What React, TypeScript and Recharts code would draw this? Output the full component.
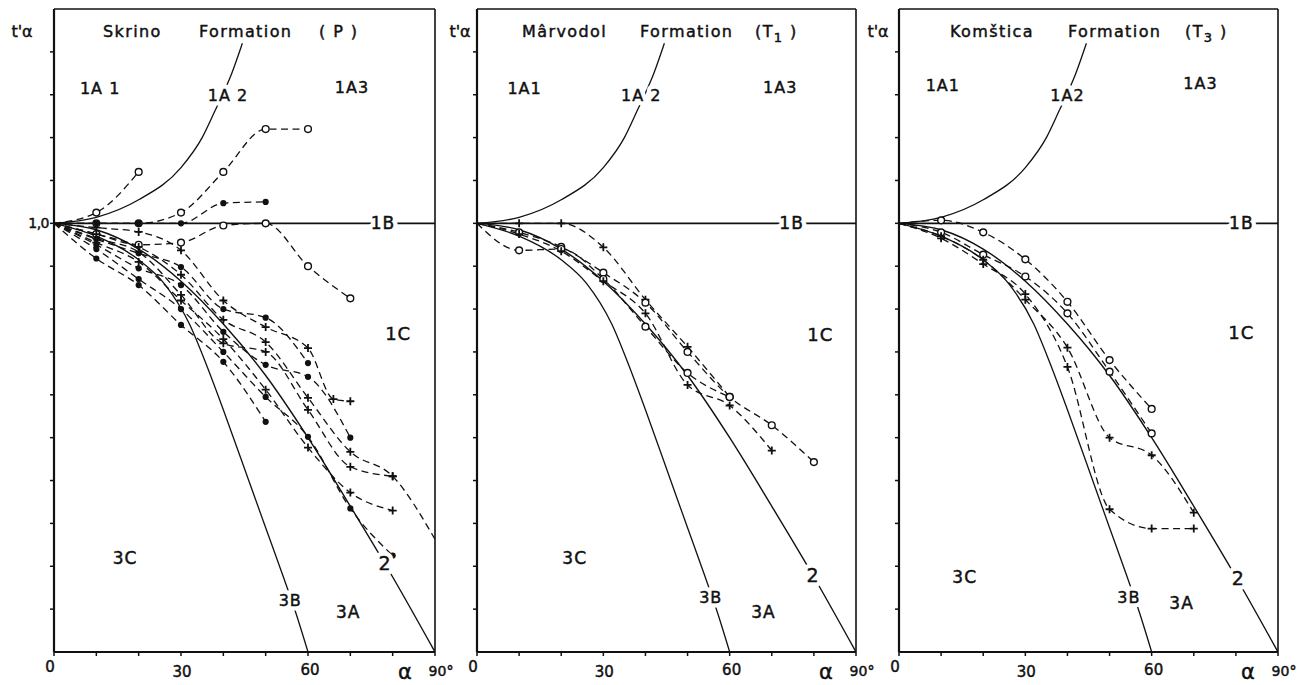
import React from 'react';
import { LineChart, Line, XAxis, YAxis, ReferenceLine, ReferenceDot } from 'recharts';

const INK = '#111';
const FONT = '"DejaVu Sans", "Liberation Sans", Arial, sans-serif';
// the scanned lettering is heavy, so every text gets a thin ink outline
const INKED = { fill: INK, stroke: INK, strokeWidth: 0.45 };

// α in degrees along x, t'α (normalised thickness) along y
const angles = [0, 10, 20, 30, 40, 50, 60, 70, 80, 90];
const tTicks = [0.1, 0.2, 0.3, 0.4, 0.5, 0.6, 0.7, 0.8, 0.9, 1.0, 1.1, 1.2, 1.3, 1.4];

// class boundaries (same on every panel)
const class1A2Angles = [0, 10, 20, 30, 35, 38, 42, 44.5];
const class1A2 = [1, 1.014, 1.055, 1.13, 1.2, 1.262, 1.35, 1.42];
const class1BAngles = [0, 90];
const class1B = [1, 1];
const class2 = [1, 0.985, 0.94, 0.865, 0.765, 0.645, 0.5, 0.34, 0.175, 0];
const class3BAngles = [0, 10, 20, 26, 32, 36, 40, 46, 50, 54, 57, 60];
const class3B = [1, 0.97, 0.915, 0.86, 0.765, 0.67, 0.565, 0.4, 0.29, 0.18, 0.095, 0];

// Skrino Formation (P)
const skrinoO1 = [1, 1.025, 1.12];
const skrinoO2 = [1, 1, 1, 1.025, 1.12, 1.22, 1.22];
const skrinoDot1 = [1, 1, 1, 1, 1.047, 1.05];
const skrinoO3 = [1, 0.975, 0.95, 0.955, 0.995, 1.0, 0.9, 0.825];
const skrinoPlus1Angles = [0, 10, 20, 30, 40, 50, 60, 66, 70];
const skrinoPlus1 = [1, 0.99, 0.98, 0.937, 0.82, 0.758, 0.709, 0.59, 0.585];
const skrinoDot2 = [1, 0.963, 0.93, 0.898, 0.8, 0.78, 0.674];
const skrinoPlus2 = [1, 0.975, 0.945, 0.88, 0.775, 0.723, 0.593, 0.467, 0.41, 0.263];
const skrinoDot3 = [1, 0.95, 0.895, 0.856, 0.747, 0.67, 0.642, 0.5];
const skrinoPlus3 = [1, 0.965, 0.933, 0.833, 0.72, 0.7, 0.565, 0.432, 0.41];
const skrinoPlus4 = [1, 0.955, 0.91, 0.82, 0.73, 0.612, 0.477, 0.372, 0.33];
const skrinoDot4 = [1, 0.918, 0.856, 0.763, 0.677, 0.537];
const skrinoDot5 = [1, 0.94, 0.87, 0.8, 0.7, 0.595, 0.502, 0.335, 0.225];

// Mârvodol Formation (T1)
const marvodolPlus1 = [1, 1, 1, 0.944, 0.822, 0.712, 0.595];
const marvodolO1 = [1, 0.979, 0.945, 0.885, 0.815, 0.7, 0.595, 0.529, 0.443];
const marvodolO2 = [1, 0.937, 0.94, 0.87, 0.759, 0.651, 0.595];
const marvodolPlus2 = [1, 0.975, 0.935, 0.865, 0.79, 0.623, 0.575, 0.47];

// Komštica Formation (T3)
const komsticaO1 = [1, 1.007, 0.979, 0.916, 0.817, 0.681, 0.567];
const komsticaO2 = [1, 0.979, 0.927, 0.876, 0.79, 0.654, 0.51];
const komsticaPlus1 = [1, 0.97, 0.915, 0.822, 0.71, 0.5, 0.459, 0.325];
const komsticaPlus2 = [1, 0.965, 0.905, 0.835, 0.665, 0.333, 0.288, 0.288];

type Pt = { a: number; t: number };
const pts = (t: number[], a: number[] = angles): Pt[] => t.map((v, i) => ({ a: a[i], t: v }));

const marker = (kind: string) => (p: any) => {
  const { cx, cy, payload, index } = p;
  const k = `m-${index}`;
  if (cx == null || payload.a === 0 || payload.a === 90) return <g key={k} />;
  if (kind === 'o')
    return <circle key={k} cx={cx} cy={cy} r={3.4} fill="#fff" stroke={INK} strokeWidth={1.4} />;
  if (kind === 'dot') return <circle key={k} cx={cx} cy={cy} r={3.1} fill={INK} />;
  return (
    <path
      key={k}
      d={`M${cx - 4},${cy}H${cx + 4}M${cx},${cy - 4}V${cy + 4}`}
      stroke={INK}
      strokeWidth={1.8}
    />
  );
};

const tag = (text: string, size: number, halo: boolean) => (p: any) => {
  const base = {
    x: p.cx,
    y: p.cy,
    dy: '0.36em',
    textAnchor: 'middle' as const,
    fontFamily: FONT,
    fontSize: size,
    letterSpacing: 1,
  };
  return (
    <g>
      {halo && (
        <text {...base} fill="#fff" stroke="#fff" strokeWidth={9} strokeLinejoin="round">
          {text}
        </text>
      )}
      <text {...base} {...INKED}>
        {text}
      </text>
    </g>
  );
};

const XTick = (p: any) => {
  const { x, y, payload } = p;
  const v = payload.value;
  const common = { fontFamily: FONT, fontSize: 15, textAnchor: 'middle' as const, ...INKED };
  if (v === 0) return <text x={x - 4} y={y + 14} {...common}>0</text>;
  if (v === 30) return <text x={x + 1} y={y + 19} {...common}>30</text>;
  if (v === 60) return <text x={x + 2} y={y + 17} {...common}>60</text>;
  if (v === 90)
    return (
      <g>
        <text x={x - 30} y={y + 21} {...common} fontSize={21}>α</text>
        <text x={x + 6} y={y + 18} {...common} fontSize={14}>90°</text>
      </g>
    );
  return <g />;
};

const YTickOne = (p: any) =>
  p.payload.value === 1 ? (
    <text x={p.x + 1} y={p.y} dy="0.35em" textAnchor="end" fontFamily={FONT} fontSize={14} letterSpacing={-0.5} {...INKED}>
      1,0
    </text>
  ) : (
    <g />
  );
const YTickNone = () => <g />;

type Series = { t: number[]; a?: number[]; m: string };
type Label = { text: string; a: number; t: number; size: number; halo?: boolean };

const panels = [
  {
    left: 0,
    plotWidth: 381,
    showOne: true,
    taDx: -32,
    words: ['Skrino', 'Formation', '( P )'],
    wordX: [49, 145, 265],
    sub: '',
    series: [
      { t: skrinoO1, m: 'o' },
      { t: skrinoO2, m: 'o' },
      { t: skrinoDot1, m: 'dot' },
      { t: skrinoO3, m: 'o' },
      { t: skrinoPlus1, a: skrinoPlus1Angles, m: '+' },
      { t: skrinoDot2, m: 'dot' },
      { t: skrinoPlus2, m: '+' },
      { t: skrinoDot3, m: 'dot' },
      { t: skrinoPlus3, m: '+' },
      { t: skrinoPlus4, m: '+' },
      { t: skrinoDot4, m: 'dot' },
      { t: skrinoDot5, m: 'dot' },
    ] as Series[],
    labels: [
      { text: '1A 1', a: 10.9, t: 1.315, size: 16 },
      { text: '1A 2', a: 41.1, t: 1.298, size: 16, halo: true },
      { text: '1A3', a: 70.4, t: 1.317, size: 16 },
      { text: '1B', a: 77.7, t: 1.0, size: 17, halo: true },
      { text: '1C', a: 81.3, t: 0.744, size: 18 },
      { text: '3C', a: 16.8, t: 0.219, size: 17 },
      { text: '3B', a: 55.8, t: 0.121, size: 16, halo: true },
      { text: '3A', a: 69.5, t: 0.093, size: 17 },
      { text: '2', a: 78.2, t: 0.207, size: 19, halo: true },
    ] as Label[],
  },
  {
    left: 423,
    plotWidth: 379,
    showOne: false,
    taDx: -17,
    words: ['Mârvodol', 'Formation', '(T'],
    wordX: [45, 163, 278],
    sub: '1',
    series: [
      { t: marvodolPlus1, m: '+' },
      { t: marvodolO1, m: 'o' },
      { t: marvodolO2, m: 'o' },
      { t: marvodolPlus2, m: '+' },
    ] as Series[],
    labels: [
      { text: '1A1', a: 11.3, t: 1.315, size: 16 },
      { text: '1A 2', a: 39, t: 1.298, size: 16, halo: true },
      { text: '1A3', a: 72, t: 1.317, size: 16 },
      { text: '1B', a: 74.7, t: 1.0, size: 17, halo: true },
      { text: '1C', a: 81.5, t: 0.74, size: 18 },
      { text: '3C', a: 23.2, t: 0.22, size: 17 },
      { text: '3B', a: 55.5, t: 0.128, size: 16, halo: true },
      { text: '3A', a: 68, t: 0.093, size: 17 },
      { text: '2', a: 79.8, t: 0.18, size: 19, halo: true },
    ] as Label[],
  },
  {
    left: 845,
    plotWidth: 379,
    showOne: false,
    taDx: -21,
    words: ['Komštica', 'Formation', '(T'],
    wordX: [51, 169, 286],
    sub: '3',
    series: [
      { t: komsticaO1, m: 'o' },
      { t: komsticaO2, m: 'o' },
      { t: komsticaPlus1, m: '+' },
      { t: komsticaPlus2, m: '+' },
    ] as Series[],
    labels: [
      { text: '1A1', a: 10.4, t: 1.322, size: 16 },
      { text: '1A2', a: 40, t: 1.298, size: 16, halo: true },
      { text: '1A3', a: 71.6, t: 1.326, size: 16 },
      { text: '1B', a: 81.3, t: 1.0, size: 17, halo: true },
      { text: '1C', a: 81.3, t: 0.746, size: 18 },
      { text: '3C', a: 15.6, t: 0.175, size: 17 },
      { text: '3B', a: 54.6, t: 0.128, size: 16, halo: true },
      { text: '3A', a: 67.1, t: 0.114, size: 17 },
      { text: '2', a: 80.6, t: 0.172, size: 19, halo: true },
    ] as Label[],
  },
];

type PanelCfg = (typeof panels)[number];

const titleShape = (cfg: PanelCfg) => (p: any) => (
  <g fontFamily={FONT} {...INKED}>
    <text x={p.cx + cfg.taDx} y={p.cy + 28} textAnchor="middle" fontSize={16}>
      t'α
    </text>
    {cfg.words.map((w, i) => (
      <text
        key={w}
        x={p.cx + cfg.wordX[i]}
        y={p.cy + 28}
        fontSize={16}
        letterSpacing={1.4}
        style={{ whiteSpace: 'pre' }}
      >
        {w}
        {i === 2 && cfg.sub ? (
          <>
            <tspan dy={5} fontSize={13}>{cfg.sub}</tspan>
            <tspan dy={-5}> )</tspan>
          </>
        ) : null}
      </text>
    ))}
  </g>
);

function Panel({ cfg }: { cfg: PanelCfg }) {
  const width = 14 + 40 + cfg.plotWidth + 28;
  return (
    <div style={{ position: 'absolute', left: cfg.left, top: 0 }}>
      <LineChart width={width} height={685} margin={{ top: 9, right: 28, bottom: 0, left: 14 }}>
        <XAxis
          type="number"
          dataKey="a"
          domain={[0, 90]}
          ticks={angles}
          interval={0}
          tick={XTick}
          tickSize={4}
          tickLine={{ stroke: INK, strokeWidth: 1.5 }}
          axisLine={{ stroke: INK, strokeWidth: 2.2 }}
          height={33}
          allowDataOverflow
        />
        <YAxis
          type="number"
          dataKey="t"
          domain={[0, 1.5]}
          ticks={tTicks}
          interval={0}
          tick={cfg.showOne ? YTickOne : YTickNone}
          tickSize={4}
          tickLine={{ stroke: INK, strokeWidth: 1.5 }}
          axisLine={{ stroke: INK, strokeWidth: 2.2 }}
          width={40}
          allowDataOverflow
        />
        <ReferenceLine y={1.5} stroke={INK} strokeWidth={1.6} />
        <ReferenceLine x={90} stroke={INK} strokeWidth={1.6} />

        <Line data={pts(class1A2, class1A2Angles)} dataKey="t" type="monotone" stroke={INK} strokeWidth={1.3} dot={false} activeDot={false} isAnimationActive={false} />
        <Line data={pts(class1B, class1BAngles)} dataKey="t" type="linear" stroke={INK} strokeWidth={1.6} dot={false} activeDot={false} isAnimationActive={false} />
        <Line data={pts(class2)} dataKey="t" type="monotone" stroke={INK} strokeWidth={1.4} dot={false} activeDot={false} isAnimationActive={false} />
        <Line data={pts(class3B, class3BAngles)} dataKey="t" type="monotone" stroke={INK} strokeWidth={1.3} dot={false} activeDot={false} isAnimationActive={false} />

        {cfg.series.map((s, i) => (
          <Line
            key={`s${i}`}
            data={pts(s.t, s.a)}
            dataKey="t"
            type="monotone"
            stroke={INK}
            strokeWidth={1.3}
            strokeDasharray="7 4.5"
            dot={marker(s.m)}
            activeDot={false}
            isAnimationActive={false}
          />
        ))}

        {cfg.labels.map((l) => (
          <ReferenceDot
            key={l.text + l.a}
            x={l.a}
            y={l.t}
            r={0}
            ifOverflow="visible"
            shape={tag(l.text, l.size, !!l.halo)}
          />
        ))}
        <ReferenceDot x={0} y={1.5} r={0} ifOverflow="visible" shape={titleShape(cfg)} />
      </LineChart>
    </div>
  );
}

export default function App() {
  return (
    <div style={{ position: 'absolute', left: 0, top: 0, width: 1306, height: 685, background: '#fff' }}>
      {panels.map((cfg, i) => (
        <Panel key={i} cfg={cfg} />
      ))}
    </div>
  );
}
